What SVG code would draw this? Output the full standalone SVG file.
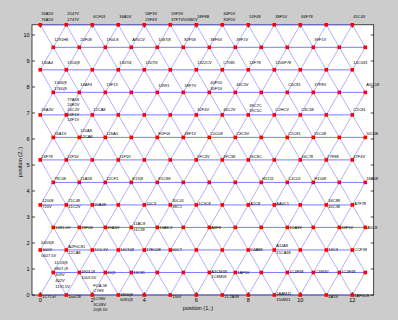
<svg xmlns="http://www.w3.org/2000/svg" xmlns:xlink="http://www.w3.org/1999/xlink" width="398" height="320" viewBox="0 0 398 320">
<style>
.l{font-family:"Liberation Sans",Arial,sans-serif;font-size:4px;fill:#000}
.t{font-family:"Liberation Sans",Arial,sans-serif;font-size:5.5px;fill:#000}
.ax{fill:none;stroke:#000;stroke-width:0.7}
.h{fill:none;stroke:#6e6eff;stroke-width:0.9;vector-effect:non-scaling-stroke}
.d{fill:none;stroke:#7c7cff;stroke-width:0.6;vector-effect:non-scaling-stroke}
</style>
<defs>
<rect id="mk" x="-1.8" y="-1.8" width="3.6" height="3.6" fill="#ff0000"/>
</defs>
<rect x="0" y="0" width="398" height="320" fill="#cccccc"/>
<g id="axes">
<rect x="32" y="24.8" width="341.7" height="270.2" fill="#ffffff" stroke="#000" stroke-width="0.7"/>
<path class="ax" d="M32 295h3M32 269h3M32 243h3M32 217h3M32 191h3M32 165h3M32 139h3M32 113h3M32 87h3M32 61h3M32 35h3M373.7 295h-3M373.7 269h-3M373.7 243h-3M373.7 217h-3M373.7 191h-3M373.7 165h-3M373.7 139h-3M373.7 113h-3M373.7 87h-3M373.7 61h-3M373.7 35h-3M40.3 295v-3M92.3 295v-3M144.3 295v-3M196.3 295v-3M248.3 295v-3M300.3 295v-3M352.3 295v-3M40.3 24.8v3M92.3 24.8v3M144.3 24.8v3M196.3 24.8v3M248.3 24.8v3M300.3 24.8v3M352.3 24.8v3"/>
<g class="t" text-anchor="end">
<text x="29.5" y="297">0</text><text x="29.5" y="271">1</text><text x="29.5" y="245">2</text><text x="29.5" y="219">3</text><text x="29.5" y="193">4</text><text x="29.5" y="167">5</text><text x="29.5" y="141">6</text><text x="29.5" y="115">7</text><text x="29.5" y="89">8</text><text x="29.5" y="63">9</text><text x="29.5" y="37">10</text>
</g>
<g class="t" text-anchor="middle">
<text x="40.3" y="302">0</text><text x="92.3" y="302">2</text><text x="144.3" y="302">4</text><text x="196.3" y="302">6</text><text x="248.3" y="302">8</text><text x="300.3" y="302">10</text><text x="352.3" y="302">12</text>
<text x="198" y="309.5">position (1,:)</text>
<text transform="translate(22,162) rotate(-90)">position (2,:)</text>
</g>
</g>
<g id="connectors" transform="translate(40.3,295) scale(26,-22.517)">
<path class="h" d="M0 0H12M0.5 1H12.5M0 2H12M0.5 3H12.5M0 4H12M0.5 5H12.5M0 6H12M0.5 7H12.5M0 8H12M0.5 9H12.5M0 10H12M0.5 11H12.5M0 12H12"/>
<path class="d" d="M0 0L6 12M1 0L7 12M2 0L8 12M3 0L9 12M4 0L10 12M5 0L11 12M6 0L12 12M7 0L12.5 11M8 0L12.5 9M9 0L12.5 7M10 0L12.5 5M11 0L12.5 3M12 0L12.5 1M0 2L5 12M0 4L4 12M0 6L3 12M0 8L2 12M0 10L1 12"/>
<path class="d" d="M1 0L0 2M2 0L0 4M3 0L0 6M4 0L0 8M5 0L0 10M6 0L0 12M7 0L1 12M8 0L2 12M9 0L3 12M10 0L4 12M11 0L5 12M12 0L6 12M12.5 1L7 12M12.5 3L8 12M12.5 5L9 12M12.5 7L10 12M12.5 9L11 12M12.5 11L12 12"/>
</g>
<g id="nodes" class="l">
<g id="n12_0"><use href="#mk" x="40.3" y="24.8"/><text x="41.3" y="15.4">26A5V<tspan x="41.3" y="20.9">76A5V</tspan></text></g>
<g id="n12_1"><use href="#mk" x="66.3" y="24.8"/><text x="67.3" y="15.4">2547V<tspan x="67.3" y="20.9">2747V</tspan></text></g>
<g id="n12_2"><use href="#mk" x="92.3" y="24.8"/><text x="93.3" y="18.1">6CF03</text></g>
<g id="n12_3"><use href="#mk" x="118.3" y="24.8"/><text x="119.3" y="18.1">36A5V</text></g>
<g id="n12_4"><use href="#mk" x="144.3" y="24.8"/><text x="145.3" y="15.4">58F3V<tspan x="145.3" y="20.9">29F6V</tspan></text></g>
<g id="n12_5"><use href="#mk" x="170.3" y="24.8"/><text x="171.3" y="15.4">59F3V<tspan x="171.3" y="20.9">37F7V5V6B1V</tspan></text></g>
<g id="n12_6"><use href="#mk" x="196.3" y="24.8"/><text x="197.3" y="18.1">58F8B</text></g>
<g id="n12_7"><use href="#mk" x="222.3" y="24.8"/><text x="223.3" y="15.4">34F5V<tspan x="223.3" y="20.9">35F5V</tspan></text></g>
<g id="n12_8"><use href="#mk" x="248.3" y="24.8"/><text x="249.3" y="18.1">51F48</text></g>
<g id="n12_9"><use href="#mk" x="274.3" y="24.8"/><text x="275.3" y="18.1">38F5V</text></g>
<g id="n12_10"><use href="#mk" x="300.3" y="24.8"/><text x="301.3" y="18.1">84F78</text></g>
<g id="n12_11"><use href="#mk" x="326.3" y="24.8"/></g>
<g id="n12_12"><use href="#mk" x="352.3" y="24.8"/><text x="353.3" y="18.1">45C4V</text></g>
<g id="n11_0"><use href="#mk" x="53.3" y="47.3"/><text x="54.3" y="41.4">1291H8</text></g>
<g id="n11_1"><use href="#mk" x="79.3" y="47.3"/><text x="80.3" y="41.4">20F08</text></g>
<g id="n11_2"><use href="#mk" x="105.3" y="47.3"/><text x="106.3" y="41.4">1904.8</text></g>
<g id="n11_3"><use href="#mk" x="131.3" y="47.3"/><text x="132.3" y="41.4">A95CV</text></g>
<g id="n11_4"><use href="#mk" x="157.3" y="47.3"/><text x="158.3" y="41.4">1087(8</text></g>
<g id="n11_5"><use href="#mk" x="183.3" y="47.3"/><text x="184.3" y="41.4">82F58</text></g>
<g id="n11_6"><use href="#mk" x="209.3" y="47.3"/><text x="210.3" y="41.4">38F6V</text></g>
<g id="n11_7"><use href="#mk" x="235.3" y="47.3"/><text x="236.3" y="41.4">39F1V</text></g>
<g id="n11_8"><use href="#mk" x="261.3" y="47.3"/></g>
<g id="n11_9"><use href="#mk" x="287.3" y="47.3"/></g>
<g id="n11_10"><use href="#mk" x="313.3" y="47.3"/><text x="314.3" y="41.4">39F1V</text></g>
<g id="n11_11"><use href="#mk" x="339.3" y="47.3"/></g>
<g id="n11_12"><use href="#mk" x="365.3" y="47.3"/></g>
<g id="n10_0"><use href="#mk" x="40.3" y="69.8"/><text x="41.3" y="64.4">130A4</text></g>
<g id="n10_1"><use href="#mk" x="66.3" y="69.8"/><text x="67.3" y="64.4">1314(8</text></g>
<g id="n10_2"><use href="#mk" x="92.3" y="69.8"/></g>
<g id="n10_3"><use href="#mk" x="118.3" y="69.8"/><text x="119.3" y="64.4">1307I4</text></g>
<g id="n10_4"><use href="#mk" x="144.3" y="69.8"/><text x="145.3" y="64.4">1207I3</text></g>
<g id="n10_5"><use href="#mk" x="170.3" y="69.8"/></g>
<g id="n10_6"><use href="#mk" x="196.3" y="69.8"/><text x="197.3" y="64.4">1322CV</text></g>
<g id="n10_7"><use href="#mk" x="222.3" y="69.8"/><text x="223.3" y="64.4">C7081</text></g>
<g id="n10_8"><use href="#mk" x="248.3" y="69.8"/><text x="249.3" y="64.4">14F78</text></g>
<g id="n10_9"><use href="#mk" x="274.3" y="69.8"/><text x="275.3" y="64.4">1206F78</text></g>
<g id="n10_10"><use href="#mk" x="300.3" y="69.8"/></g>
<g id="n10_11"><use href="#mk" x="326.3" y="69.8"/></g>
<g id="n10_12"><use href="#mk" x="352.3" y="69.8"/><text x="353.3" y="64.4">14C033</text></g>
<g id="n9_0"><use href="#mk" x="53.3" y="92.4"/><text x="54.3" y="84.4">1306(8<tspan x="54.3" y="90.2">1760(8</tspan></text></g>
<g id="n9_1"><use href="#mk" x="79.3" y="92.4"/><text x="80.3" y="86.4">14AF3</text></g>
<g id="n9_2"><use href="#mk" x="105.3" y="92.4"/><text x="106.3" y="86.4">13F13</text></g>
<g id="n9_3"><use href="#mk" x="131.3" y="92.4"/></g>
<g id="n9_4"><use href="#mk" x="157.3" y="92.4"/><text x="158.3" y="87.4">13991</text></g>
<g id="n9_5"><use href="#mk" x="183.3" y="92.4"/><text x="184.3" y="87.4">18F7V</text></g>
<g id="n9_6"><use href="#mk" x="209.3" y="92.4"/><text x="210.3" y="84.4">40F5V<tspan x="210.3" y="90.2">30F5V</tspan></text></g>
<g id="n9_7"><use href="#mk" x="235.3" y="92.4"/><text x="236.3" y="86.4">46C5V</text></g>
<g id="n9_8"><use href="#mk" x="261.3" y="92.4"/></g>
<g id="n9_9"><use href="#mk" x="287.3" y="92.4"/><text x="288.3" y="86.4">C6C81</text></g>
<g id="n9_10"><use href="#mk" x="313.3" y="92.4"/><text x="314.3" y="86.4">37F8V</text></g>
<g id="n9_11"><use href="#mk" x="339.3" y="92.4"/></g>
<g id="n9_12"><use href="#mk" x="365.3" y="92.4"/><text x="366.3" y="86.4">A50-18</text></g>
<g id="n8_0"><use href="#mk" x="40.3" y="114.9"/><text x="41.3" y="111.4">26A3V</text></g>
<g id="n8_1"><use href="#mk" x="66.3" y="114.9"/><text x="67.3" y="100.7">77A58<tspan x="67.3" y="105.8">24E5V</tspan><tspan x="67.3" y="110.9">24C2V</tspan><tspan x="67.3" y="116">24F1V</tspan><tspan x="67.3" y="121.1">13F1V</tspan></text></g>
<g id="n8_2"><use href="#mk" x="92.3" y="114.9"/><text x="93.3" y="111.4">12CA8</text></g>
<g id="n8_3"><use href="#mk" x="118.3" y="114.9"/></g>
<g id="n8_4"><use href="#mk" x="144.3" y="114.9"/></g>
<g id="n8_5"><use href="#mk" x="170.3" y="114.9"/></g>
<g id="n8_6"><use href="#mk" x="196.3" y="114.9"/><text x="197.3" y="111.4">32F4V</text></g>
<g id="n8_7"><use href="#mk" x="222.3" y="114.9"/><text x="223.3" y="111.4">46C2V</text></g>
<g id="n8_8"><use href="#mk" x="248.3" y="114.9"/><text x="249.3" y="106.9">39C7C<tspan x="249.3" y="112.1">39C5C</tspan></text></g>
<g id="n8_9"><use href="#mk" x="274.3" y="114.9"/><text x="275.3" y="111.4">C2HCV</text></g>
<g id="n8_10"><use href="#mk" x="300.3" y="114.9"/><text x="301.3" y="111.4">C8C38</text></g>
<g id="n8_11"><use href="#mk" x="326.3" y="114.9"/></g>
<g id="n8_12"><use href="#mk" x="352.3" y="114.9"/><text x="353.3" y="111.4">C2C81</text></g>
<g id="n7_0"><use href="#mk" x="53.3" y="137.4"/><text x="54.3" y="135.4">26A1V</text></g>
<g id="n7_1"><use href="#mk" x="79.3" y="137.4"/><text x="80.3" y="132.4">120A8<tspan x="80.3" y="137.6">12CA8</tspan></text></g>
<g id="n7_2"><use href="#mk" x="105.3" y="137.4"/><text x="106.3" y="135.4">126A0</text></g>
<g id="n7_3"><use href="#mk" x="131.3" y="137.4"/></g>
<g id="n7_4"><use href="#mk" x="157.3" y="137.4"/><text x="158.3" y="135.4">E0F03</text></g>
<g id="n7_5"><use href="#mk" x="183.3" y="137.4"/><text x="184.3" y="135.4">48F1V</text></g>
<g id="n7_6"><use href="#mk" x="209.3" y="137.4"/><text x="210.3" y="135.4">C0C08</text></g>
<g id="n7_7"><use href="#mk" x="235.3" y="137.4"/><text x="236.3" y="135.4">C8C3V</text></g>
<g id="n7_8"><use href="#mk" x="261.3" y="137.4"/></g>
<g id="n7_9"><use href="#mk" x="287.3" y="137.4"/><text x="288.3" y="135.4">C5C81</text></g>
<g id="n7_10"><use href="#mk" x="313.3" y="137.4"/><text x="314.3" y="135.4">55C08</text></g>
<g id="n7_11"><use href="#mk" x="339.3" y="137.4"/></g>
<g id="n7_12"><use href="#mk" x="365.3" y="137.4"/><text x="366.3" y="135.4">50C08</text></g>
<g id="n6_0"><use href="#mk" x="40.3" y="159.9"/><text x="41.3" y="158.4">24F78</text></g>
<g id="n6_1"><use href="#mk" x="66.3" y="159.9"/><text x="67.3" y="158.4">11F5V</text></g>
<g id="n6_2"><use href="#mk" x="92.3" y="159.9"/></g>
<g id="n6_3"><use href="#mk" x="118.3" y="159.9"/><text x="119.3" y="158.4">11F5V</text></g>
<g id="n6_4"><use href="#mk" x="144.3" y="159.9"/></g>
<g id="n6_5"><use href="#mk" x="170.3" y="159.9"/></g>
<g id="n6_6"><use href="#mk" x="196.3" y="159.9"/><text x="197.3" y="158.4">5FC3V</text></g>
<g id="n6_7"><use href="#mk" x="222.3" y="159.9"/><text x="223.3" y="158.4">4FC38</text></g>
<g id="n6_8"><use href="#mk" x="248.3" y="159.9"/><text x="249.3" y="158.4">36C8C</text></g>
<g id="n6_9"><use href="#mk" x="274.3" y="159.9"/></g>
<g id="n6_10"><use href="#mk" x="300.3" y="159.9"/><text x="301.3" y="158.4">34C78</text></g>
<g id="n6_11"><use href="#mk" x="326.3" y="159.9"/><text x="327.3" y="158.4">27F88</text></g>
<g id="n6_12"><use href="#mk" x="352.3" y="159.9"/><text x="353.3" y="158.4">47F4V</text></g>
<g id="n5_0"><use href="#mk" x="53.3" y="182.4"/><text x="54.3" y="180.4">78C08</text></g>
<g id="n5_1"><use href="#mk" x="79.3" y="182.4"/><text x="80.3" y="180.4">21A58</text></g>
<g id="n5_2"><use href="#mk" x="105.3" y="182.4"/><text x="106.3" y="180.4">12CF1</text></g>
<g id="n5_3"><use href="#mk" x="131.3" y="182.4"/><text x="132.3" y="180.4">E13(8</text></g>
<g id="n5_4"><use href="#mk" x="157.3" y="182.4"/><text x="158.3" y="180.4">E1C88</text></g>
<g id="n5_5"><use href="#mk" x="183.3" y="182.4"/></g>
<g id="n5_6"><use href="#mk" x="209.3" y="182.4"/></g>
<g id="n5_7"><use href="#mk" x="235.3" y="182.4"/></g>
<g id="n5_8"><use href="#mk" x="261.3" y="182.4"/><text x="262.3" y="180.4">H2211</text></g>
<g id="n5_9"><use href="#mk" x="287.3" y="182.4"/><text x="288.3" y="180.4">C4C01</text></g>
<g id="n5_10"><use href="#mk" x="313.3" y="182.4"/><text x="314.3" y="180.4">H1508</text></g>
<g id="n5_11"><use href="#mk" x="339.3" y="182.4"/></g>
<g id="n5_12"><use href="#mk" x="365.3" y="182.4"/><text x="366.3" y="180.4">18A08</text></g>
<g id="n4_0"><use href="#mk" x="40.3" y="204.9"/><text x="42.3" y="202.4">12008<tspan x="42.3" y="207.6">720V</tspan></text></g>
<g id="n4_1"><use href="#mk" x="66.3" y="204.9"/><text x="68.3" y="202.4">21C48<tspan x="68.3" y="207.6">41C2V</tspan></text></g>
<g id="n4_2"><use href="#mk" x="92.3" y="204.9"/><text x="94.3" y="206.4">20A48</text></g>
<g id="n4_3"><use href="#mk" x="118.3" y="204.9"/></g>
<g id="n4_4"><use href="#mk" x="144.3" y="204.9"/><text x="146.3" y="205.4">10C3</text></g>
<g id="n4_5"><use href="#mk" x="170.3" y="204.9"/><text x="172.3" y="202.4">30C01<tspan x="172.3" y="207.6">38C1</tspan></text></g>
<g id="n4_6"><use href="#mk" x="196.3" y="204.9"/><text x="198.3" y="205.4">1C3C8</text></g>
<g id="n4_7"><use href="#mk" x="222.3" y="204.9"/></g>
<g id="n4_8"><use href="#mk" x="248.3" y="204.9"/><text x="250.3" y="205.4">A1C8</text></g>
<g id="n4_9"><use href="#mk" x="274.3" y="204.9"/><text x="276.3" y="205.4">AA0C1</text></g>
<g id="n4_10"><use href="#mk" x="300.3" y="204.9"/></g>
<g id="n4_11"><use href="#mk" x="326.3" y="204.9"/><text x="328.3" y="202.4">34C88<tspan x="328.3" y="207.6">40C38</tspan></text></g>
<g id="n4_12"><use href="#mk" x="352.3" y="204.9"/><text x="354.3" y="205.4">A7F78</text></g>
<g id="n3_0"><use href="#mk" x="53.3" y="227.4"/><text x="55.3" y="228.6">1481-5V</text></g>
<g id="n3_1"><use href="#mk" x="79.3" y="227.4"/><text x="81.3" y="228.6">18F08</text></g>
<g id="n3_2"><use href="#mk" x="105.3" y="227.4"/><text x="107.3" y="228.6">69A3V</text></g>
<g id="n3_3"><use href="#mk" x="131.3" y="227.4"/><text x="133.3" y="225.4">11AC8<tspan x="133.3" y="230.6">11C38</tspan></text></g>
<g id="n3_4"><use href="#mk" x="157.3" y="227.4"/><text x="159.3" y="228.6">13A8-3</text></g>
<g id="n3_5"><use href="#mk" x="183.3" y="227.4"/></g>
<g id="n3_6"><use href="#mk" x="209.3" y="227.4"/><text x="211.3" y="228.6">A8F8</text></g>
<g id="n3_7"><use href="#mk" x="235.3" y="227.4"/></g>
<g id="n3_8"><use href="#mk" x="261.3" y="227.4"/></g>
<g id="n3_9"><use href="#mk" x="287.3" y="227.4"/><text x="289.3" y="228.6">1CA3V</text></g>
<g id="n3_10"><use href="#mk" x="313.3" y="227.4"/></g>
<g id="n3_11"><use href="#mk" x="339.3" y="227.4"/><text x="341.3" y="228.6">43F5V</text></g>
<g id="n3_12"><use href="#mk" x="365.3" y="227.4"/><text x="367.3" y="228.6">A5C8</text></g>
<g id="n2_0"><use href="#mk" x="40.3" y="250"/><text x="41.3" y="244.4">6403(8<tspan x="42.8" y="250.9">600V</tspan><tspan x="41.3" y="257.4">0607.5V</tspan></text></g>
<g id="n2_1"><use href="#mk" x="66.3" y="250"/><text x="68.3" y="248.4">A2F0C81<tspan x="68.3" y="253.9">12CA8</tspan></text></g>
<g id="n2_2"><use href="#mk" x="92.3" y="250"/><text x="94.3" y="251.4">1C0-1V</text></g>
<g id="n2_3"><use href="#mk" x="118.3" y="250"/><text x="120.3" y="251.4">14CD(8</text></g>
<g id="n2_4"><use href="#mk" x="144.3" y="250"/><text x="146.3" y="251.4">17EC08</text></g>
<g id="n2_5"><use href="#mk" x="170.3" y="250"/><text x="172.3" y="251.4">00C7</text></g>
<g id="n2_6"><use href="#mk" x="196.3" y="250"/></g>
<g id="n2_7"><use href="#mk" x="222.3" y="250"/></g>
<g id="n2_8"><use href="#mk" x="248.3" y="250"/><text x="250.3" y="251.4">C4A88</text></g>
<g id="n2_9"><use href="#mk" x="274.3" y="250"/><text x="276.3" y="247.4">A11A8<tspan x="276.3" y="253.9">15CA38</tspan></text></g>
<g id="n2_10"><use href="#mk" x="300.3" y="250"/></g>
<g id="n2_11"><use href="#mk" x="326.3" y="250"/><text x="328.3" y="251.4">13C3</text></g>
<g id="n2_12"><use href="#mk" x="352.3" y="250"/><text x="354.3" y="251.4">CCF38</text></g>
<g id="n1_0"><use href="#mk" x="53.3" y="272.5"/><text x="54.3" y="264.4">11.03(8<tspan x="54.3" y="270">0807.(8</tspan><tspan x="55.3" y="276.4">409V</tspan><tspan x="55.3" y="282.4">402V</tspan><tspan x="55.3" y="288.4">1191.5V</tspan></text></g>
<g id="n1_1"><use href="#mk" x="79.3" y="272.5"/><text x="81.3" y="273.4">4903.(8<tspan x="81.3" y="278.9">1003.5V</tspan></text></g>
<g id="n1_2"><use href="#mk" x="105.3" y="272.5"/><text x="107.3" y="273.9">40(3</text></g>
<g id="n1_3"><use href="#mk" x="131.3" y="272.5"/><text x="133.3" y="274.4">13C81</text></g>
<g id="n1_4"><use href="#mk" x="157.3" y="272.5"/></g>
<g id="n1_5"><use href="#mk" x="183.3" y="272.5"/></g>
<g id="n1_6"><use href="#mk" x="209.3" y="272.5"/><text x="211.3" y="272.9">A3CM38<tspan x="211.3" y="278.4">1C8M58</tspan></text></g>
<g id="n1_7"><use href="#mk" x="235.3" y="272.5"/><text x="237.3" y="274.4">1AF5V</text></g>
<g id="n1_8"><use href="#mk" x="261.3" y="272.5"/></g>
<g id="n1_9"><use href="#mk" x="287.3" y="272.5"/><text x="289.3" y="273.4">1C4F38</text></g>
<g id="n1_10"><use href="#mk" x="313.3" y="272.5"/><text x="315.3" y="273.4">C4M3V</text></g>
<g id="n1_11"><use href="#mk" x="339.3" y="272.5"/><text x="341.3" y="273.4">1C4F48</text></g>
<g id="n1_12"><use href="#mk" x="365.3" y="272.5"/></g>
<g id="n0_0"><use href="#mk" x="40.3" y="295"/><text x="42.3" y="298.4">1C7Cel</text></g>
<g id="n0_1"><use href="#mk" x="66.3" y="295"/><text x="68.3" y="298.4">1aaC8l</text></g>
<g id="n0_2"><use href="#mk" x="92.3" y="295"/><text x="93.3" y="287.4">FCA-58<tspan x="93.3" y="292.4">C7HV</tspan><tspan x="93.3" y="300.4">1C98V</tspan><tspan x="93.3" y="305.9">3C4SV</tspan><tspan x="93.3" y="311.4">20(8.5V</tspan></text></g>
<g id="n0_3"><use href="#mk" x="118.3" y="295"/><text x="120.3" y="295.9">1806(8<tspan x="120.3" y="301.4">6081(8</tspan></text></g>
<g id="n0_4"><use href="#mk" x="144.3" y="295"/></g>
<g id="n0_5"><use href="#mk" x="170.3" y="295"/><text x="172.3" y="298.4">13xV</text></g>
<g id="n0_6"><use href="#mk" x="196.3" y="295"/></g>
<g id="n0_7"><use href="#mk" x="222.3" y="295"/><text x="224.3" y="298.4">11.2A38</text></g>
<g id="n0_8"><use href="#mk" x="248.3" y="295"/></g>
<g id="n0_9"><use href="#mk" x="274.3" y="295"/><text x="276.3" y="295.4">1AAM11<tspan x="276.3" y="300.9">150M11</tspan></text></g>
<g id="n0_10"><use href="#mk" x="300.3" y="295"/></g>
<g id="n0_11"><use href="#mk" x="326.3" y="295"/><text x="328.3" y="298.4">4A5V</text></g>
<g id="n0_12"><use href="#mk" x="352.3" y="295"/><text x="354.3" y="297.4">1AF5C8</text></g>
</g>
</svg>
